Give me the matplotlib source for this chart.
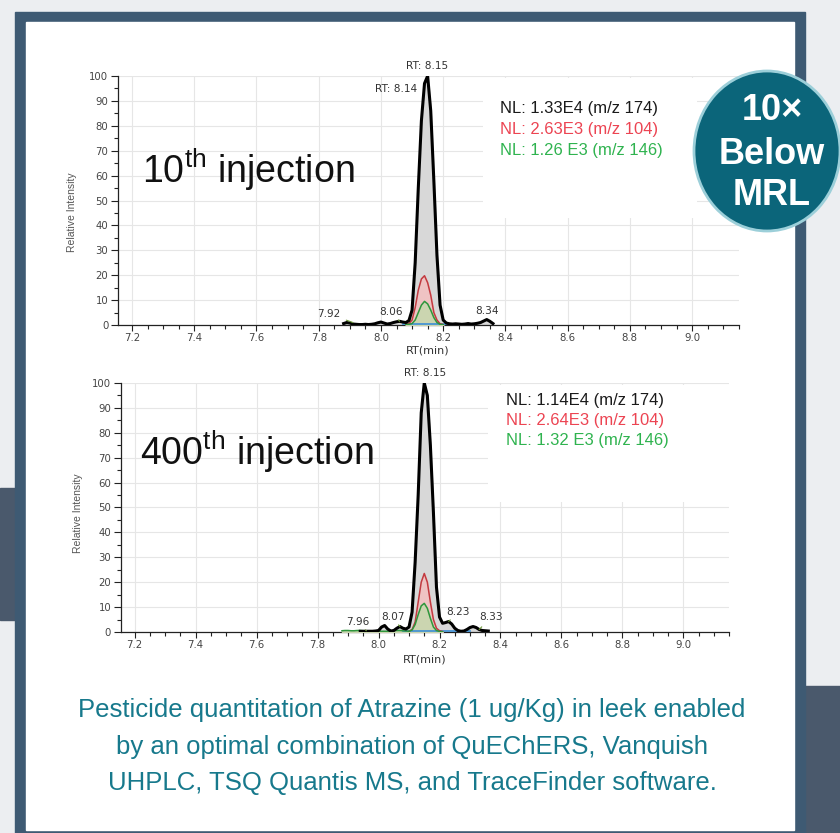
import matplotlib
matplotlib.use('Agg')
import matplotlib.pyplot as plt
from matplotlib.patches import Rectangle, Ellipse
from matplotlib.ticker import MultipleLocator, FormatStrFormatter

plt.rcParams['font.family'] = ['Liberation Sans', 'DejaVu Sans']
CHART_FONT = 'DejaVu Sans'

# ---- 10th injection (RT in min, relative intensity %) ----
rt10 = [7.88, 7.89, 7.90, 7.91, 7.92, 7.93, 7.94, 7.95, 7.96, 7.97, 7.98, 7.99, 8.00,
        8.01, 8.02, 8.03, 8.04, 8.05, 8.06, 8.07, 8.08, 8.09, 8.10, 8.11, 8.12, 8.13,
        8.14, 8.15, 8.16, 8.17, 8.18, 8.19, 8.20, 8.21, 8.22, 8.23, 8.24, 8.25, 8.26,
        8.27, 8.28, 8.29, 8.30, 8.31, 8.32, 8.33, 8.34, 8.35, 8.36]
black10 = [0.6, 1.0, 0.8, 0.4, 0.3, 0.2, 0.2, 0.3, 0.2, 0.3, 0.5, 0.9, 1.2,
           0.8, 0.4, 0.6, 1.0, 1.3, 1.5, 1.2, 1.0, 1.8, 6, 25, 55, 82,
           97, 100, 86, 58, 28, 8, 2, 0.8, 0.5, 0.4, 0.5, 0.4, 0.3,
           0.4, 0.6, 0.4, 0.5, 0.7, 1.0, 1.6, 2.2, 1.5, 0.6]
rt10_ion = [8.08, 8.09, 8.10, 8.11, 8.12, 8.13, 8.14, 8.15, 8.16, 8.17, 8.18, 8.19, 8.20]
red10 = [0.3, 0.6, 2, 7, 14, 18.5, 19.8, 17, 12, 5, 2, 0.5, 0.2]
green10 = [0.2, 0.3, 0.6, 2, 5, 8, 9.5, 8.5, 6, 3, 1, 0.3, 0.1]
rt10_base = [8.07, 8.10, 8.15, 8.20, 8.24]
blue10 = [0.5, 0.5, 0.5, 0.5, 0.5]

# ---- 400th injection ----
rt400 = [7.94, 7.95, 7.96, 7.97, 7.98, 7.99, 8.00, 8.01, 8.02, 8.03, 8.04, 8.05, 8.06,
         8.07, 8.08, 8.09, 8.10, 8.11, 8.12, 8.13, 8.14, 8.15, 8.16, 8.17, 8.18, 8.19,
         8.20, 8.21, 8.22, 8.23, 8.24, 8.25, 8.26, 8.27, 8.28, 8.29, 8.30, 8.31, 8.32,
         8.33, 8.34, 8.35, 8.36]
black400 = [0.3, 0.3, 0.3, 0.3, 0.3, 0.4, 0.6, 2.0, 2.6, 1.2, 0.4, 0.6, 1.5,
            2.2, 1.5, 1.2, 2, 8, 28, 55, 88, 100, 95, 75, 48, 18,
            6, 3.5, 3.8, 4.2, 3.2, 1.5, 0.6, 0.3, 0.4, 1.0, 1.8, 2.2, 1.8,
            1.0, 0.6, 0.5, 0.4]
rt400_red = [8.10, 8.11, 8.12, 8.13, 8.14, 8.15, 8.16, 8.17, 8.18, 8.19, 8.20, 8.21]
red400 = [0.3, 1, 4, 12, 20, 23.5, 20, 12, 5, 1.5, 0.5, 0.2]
rt400_green = [7.88, 7.89, 7.90, 7.91, 7.92, 7.93, 7.94, 7.95, 7.96, 7.97, 7.98, 7.99,
               8.00, 8.01, 8.02, 8.03, 8.04, 8.05, 8.06, 8.07, 8.08, 8.09, 8.10, 8.11,
               8.12, 8.13, 8.14, 8.15, 8.16, 8.17, 8.18, 8.19, 8.20, 8.21]
green400 = [0.5, 0.6, 0.6, 0.5, 0.5, 0.6, 0.6, 0.5, 0.5, 0.4, 0.4, 0.3,
            0.3, 0.3, 0.3, 0.3, 0.4, 0.5, 0.6, 0.6, 0.5, 0.4, 0.3, 0.8,
            3, 7, 10.5, 11.5, 9.5, 5.5, 2, 0.6, 0.2, 0.1]
rt400_base = [8.08, 8.15, 8.22, 8.30]
blue400 = [0.5, 0.5, 0.5, 0.5]

nl10 = ['NL: 1.33E4 (m/z 174)', 'NL: 2.63E3 (m/z 104)', 'NL: 1.26 E3 (m/z 146)']
nl400 = ['NL: 1.14E4 (m/z 174)', 'NL: 2.64E3 (m/z 104)', 'NL: 1.32 E3 (m/z 146)']
nl_colors = ['#1a1a1a', '#ec4452', '#2fb34f']

# peak labels: (text, rt of peak, intensity, label rt, label y, leader)
labels10 = [('7.92', 7.91, 1.0, 7.834, 4.4, True), ('8.06', 8.06, 1.5, 8.033, 5.2, True),
            ('8.34', 8.34, 2.2, 8.341, 5.6, False)]
labels400 = [('7.96', 7.96, 0.5, 7.931, 4.0, True), ('8.07', 8.07, 2.2, 8.046, 6.0, True),
             ('8.23', 8.23, 4.2, 8.259, 8.0, True), ('8.33', 8.33, 1.0, 8.370, 6.0, True)]

caption = ['Pesticide quantitation of Atrazine (1 ug/Kg) in leek enabled',
           'by an optimal combination of QuEChERS, Vanquish',
           'UHPLC, TSQ Quantis MS, and TraceFinder software.']
badge = ['10×', 'Below', 'MRL']

fig = plt.figure(figsize=(8.4, 8.33), dpi=100)
fig.patch.set_facecolor('#eceef1')

# 背景框（像素坐标）
bg = fig.add_axes([0, 0, 1, 1])
bg.set_xlim(0, 840)
bg.set_ylim(833, 0)
bg.axis('off')
bg.add_patch(Rectangle((0, 488), 15, 132, color='#4a596c'))
bg.add_patch(Rectangle((805, 686), 35, 147, color='#4a596c'))
bg.add_patch(Rectangle((15, 12), 790, 830, color='#3e5a73'))
bg.add_patch(Rectangle((26, 22), 768, 808, color='white'))


def style_axes(ax, box):
    ax.patch.set_alpha(0)
    ax.set_xlim(7.155, 9.15)
    ax.set_ylim(0, 100)
    for s in ['top', 'right']:
        ax.spines[s].set_visible(False)
    for s in ['left', 'bottom']:
        ax.spines[s].set_color('#222222')
        ax.spines[s].set_linewidth(0.9)
    ax.xaxis.set_major_locator(MultipleLocator(0.2))
    ax.xaxis.set_minor_locator(MultipleLocator(0.05))
    ax.yaxis.set_major_locator(MultipleLocator(10))
    ax.yaxis.set_minor_locator(MultipleLocator(5))
    ax.xaxis.set_major_formatter(FormatStrFormatter('%.1f'))
    ax.tick_params(which='both', colors='#222222', labelcolor='#444444', labelsize=7.3, width=0.8)
    ax.tick_params(axis='x', which='major', length=4, pad=2)
    ax.tick_params(axis='y', which='major', length=5, pad=2)
    ax.tick_params(which='minor', length=3)
    for lab in ax.get_xticklabels() + ax.get_yticklabels():
        lab.set_family(CHART_FONT)
    ax.grid(which='major', color='#e6e6e6', linewidth=0.8)
    ax.set_axisbelow(True)
    # 白底遮住 NL 文字后面的网格
    ax.add_patch(Rectangle((box[0], box[1]), box[2] - box[0], box[3] - box[1],
                           transform=ax.transAxes, facecolor='white', edgecolor='none', zorder=1))


def chromatogram(ax, rt_b, b, rt_r, r, rt_g, g, rt_bl, bl):
    ax.fill_between(rt_b, b, color='#d8d8d8', zorder=2)
    ax.fill_between(rt_r, r, color='#efc3c3', zorder=3)
    ax.fill_between(rt_g, g, color='#cbd5b0', zorder=4)
    ax.plot(rt_bl, bl, color='#3b8fd6', lw=1.2, zorder=5)
    ax.plot(rt_r, r, color='#c23a40', lw=1.1, zorder=6)
    ax.plot(rt_g, g, color='#2e963c', lw=1.1, zorder=7)
    ax.plot(rt_b, b, color='black', lw=2.2, zorder=8, solid_joinstyle='round')


def peak_labels(ax, labels):
    for txt, rt, val, lx, ly, leader in labels:
        if leader:
            ax.annotate(txt, xy=(rt, val), xytext=(lx, ly), ha='center', va='center',
                        fontsize=7.6, color='#333333', zorder=9, family=CHART_FONT,
                        arrowprops=dict(arrowstyle='-', color='#6f9a3a', lw=0.8, shrinkA=2, shrinkB=0))
        else:
            ax.text(lx, ly, txt, ha='center', va='center', fontsize=7.6, color='#333333',
                    zorder=9, family=CHART_FONT)


def axis_titles(ax, xl, yl):
    ax.text(xl[0], xl[1], 'RT(min)', transform=ax.transAxes, ha='center', va='center',
            fontsize=8, color='#333333', family=CHART_FONT)
    ax.text(yl[0], yl[1], 'Relative Intensity', transform=ax.transAxes, ha='center', va='center',
            rotation=90, fontsize=7.5, color='#555555')


# ---- 上图：10th injection ----
ax1 = fig.add_axes([0.1405, 0.6098, 0.739, 0.299])
style_axes(ax1, (0.588, 0.43, 0.932, 0.99))
chromatogram(ax1, rt10, black10, rt10_ion, red10, rt10_ion, green10, rt10_base, blue10)
peak_labels(ax1, labels10)
ax1.text(8.149, 104, 'RT: 8.15', ha='center', va='center', fontsize=7.6, color='#333333',
         clip_on=False, family=CHART_FONT)
ax1.text(8.116, 94.8, 'RT: 8.14', ha='right', va='center', fontsize=7.6, color='#333333',
         family=CHART_FONT)
ax1.text(7.231, 57, r'$\mathregular{10^{th}}$ injection', ha='left', va='baseline', fontsize=27, color='#111111')
for i, (t, c) in enumerate(zip(nl10, nl_colors)):
    ax1.text(0.615, 0.871 - i * 0.085, t, transform=ax1.transAxes, ha='left', va='center',
             fontsize=12, color=c, zorder=9)
axis_titles(ax1, (0.499, -0.104), (-0.074, 0.454))

# ---- 下图：400th injection ----
ax2 = fig.add_axes([0.144, 0.2413, 0.724, 0.299])
style_axes(ax2, (0.604, 0.52, 1.0, 0.99))
chromatogram(ax2, rt400, black400, rt400_red, red400, rt400_green, green400, rt400_base, blue400)
peak_labels(ax2, labels400)
ax2.text(8.151, 104, 'RT: 8.15', ha='center', va='center', fontsize=7.6, color='#333333',
         clip_on=False, family=CHART_FONT)
ax2.text(7.216, 67, r'$\mathregular{400^{th}}$ injection', ha='left', va='baseline', fontsize=27, color='#111111')
for i, (t, c) in enumerate(zip(nl400, nl_colors)):
    ax2.text(0.633, 0.929 - i * 0.081, t, transform=ax2.transAxes, ha='left', va='center',
             fontsize=12, color=c, zorder=9)
axis_titles(ax2, (0.5, -0.112), (-0.071, 0.478))

# ---- 前景：徽章 + 说明文字 ----
fg = fig.add_axes([0, 0, 1, 1])
fg.patch.set_alpha(0)
fg.set_xlim(0, 840)
fg.set_ylim(833, 0)
fg.axis('off')
fg.add_patch(Ellipse((767, 151), 146, 160, facecolor='#0b657a', edgecolor='#9ccfd9', lw=2))
for t, y in zip(badge, [110, 154, 195]):
    fg.text(772, y, t, ha='center', va='center', fontsize=26, fontweight='bold', color='white')
for t, y in zip(caption, [710, 747, 783]):
    fg.text(412, y, t, ha='center', va='center', fontsize=18.5, color='#17798c')

fig.savefig('out.png', dpi=100)
